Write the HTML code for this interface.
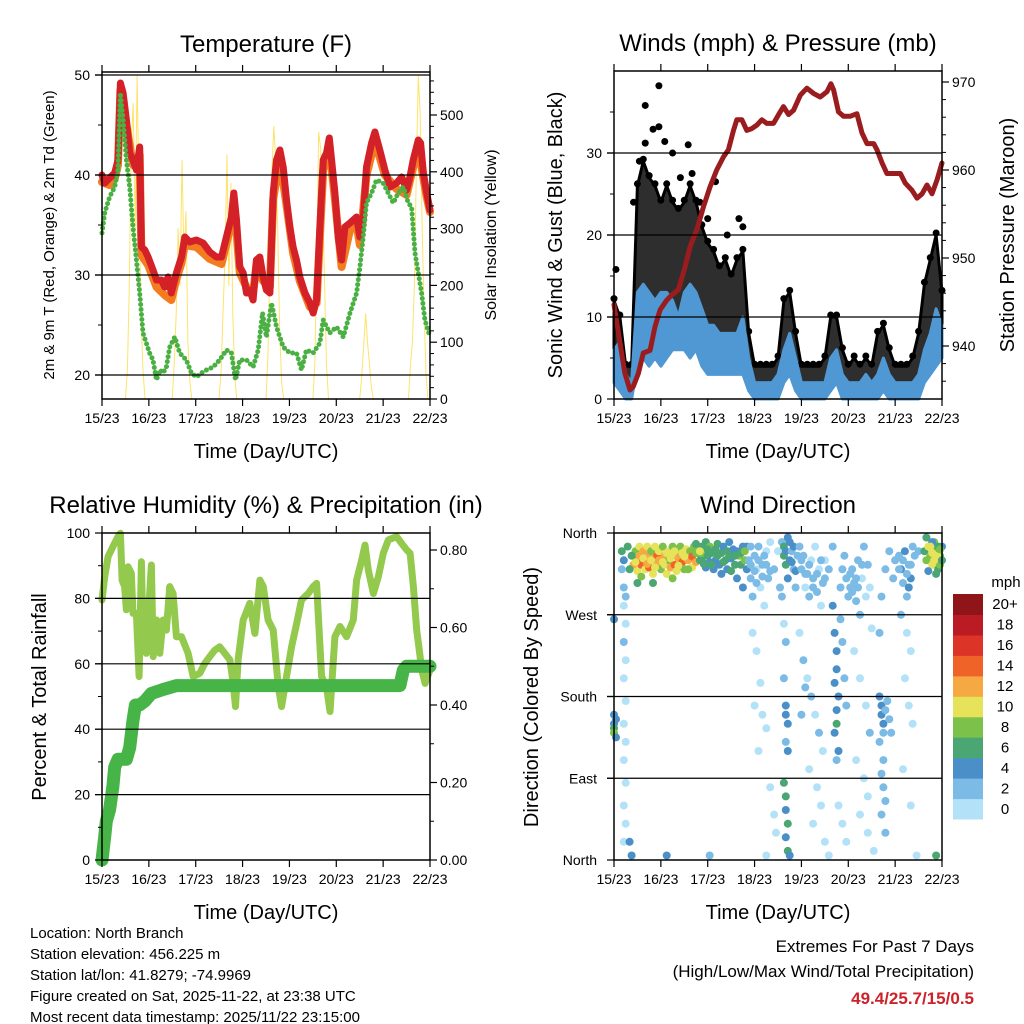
<!DOCTYPE html>
<html><head><meta charset="utf-8"><style>
html,body{margin:0;padding:0;background:#fff;}
svg{display:block;font-family:"Liberation Sans",Arial,sans-serif;}
</style></head><body>
<svg id="c" width="1024" height="1024" viewBox="0 0 1024 1024" xmlns="http://www.w3.org/2000/svg"></svg>
<script>
// ---------- DATA ----------
const dayLabels = ["15/23","16/23","17/23","18/23","19/23","20/23","21/23","22/23"];
const temp2m = [[0,40],[1.4,39.2],[3.9,39.7],[6.5,40.2],[8.2,41.5],[9.4,49.2],[10.8,48.2],[12.5,45.5],[14.2,42.2],[15.9,41.5],[17.6,40.5],[19.3,42.8],[20.2,32.8],[21.9,32.5],[23.6,31.8],[26.1,30.5],[27.9,29.5],[30.4,29.5],[32.1,28.8],[33.8,29.8],[35.5,28.2],[38.1,30.2],[40.7,31.8],[42.4,33.8],[44.9,33.3],[48.4,33.5],[51.8,33.2],[55.2,32.3],[58.6,31.8],[61.2,31.8],[63.7,33.8],[66.3,35.8],[67.5,38.2],[68.9,35.5],[70.6,30.8],[72.3,30.2],[74,28.2],[75.7,28.5],[77.4,27.5],[79.1,31.5],[80.8,31.8],[82.5,29.8],[84.2,28.5],[86,28.2],[87.7,38.2],[89.4,41.5],[91.1,42.5],[92.8,40.8],[94.5,37.5],[96.2,34.8],[97.9,32.8],[99.6,31.5],[101.3,29.8],[103.9,28.2],[106.5,27.2],[108.2,26.2],[109.9,27.5],[111.6,34.8],[113.3,41.5],[115,42.2],[116.4,43.7],[117.6,41.5],[119.3,38.2],[121,33.8],[122.7,31.5],[124.4,34.8],[127,35.2],[130.4,35.8],[132.1,33.8],[133.8,35.5],[135.5,40.8],[138.1,43.2],[139.8,44.3],[142.3,42.5],[144.9,40.5],[147.5,38.8],[150.9,39.2],[153.5,39.8],[156,38.5],[157.7,39.8],[159.4,41.5],[162,43.5],[163.2,43.2],[164.6,40.2],[166.3,38.2],[168,36.5]];
const temp9m = [[0,39.3],[3.9,39],[6.5,39.6],[8.2,41],[9.4,48.5],[12.5,45],[15.9,41],[19.3,42],[20.2,32],[23.6,31],[27.9,28.8],[32.1,28],[35.5,27.5],[38.1,29.6],[40.7,31.2],[42.4,33],[48.4,32.8],[55.2,31.6],[61.2,31.1],[66.3,35.2],[67.5,37.6],[70.6,30.2],[74,28.8],[77.4,28.2],[79.1,31],[82.5,29.4],[86,28.8],[87.7,37.6],[91.1,41.6],[94.5,37],[97.9,32.2],[101.3,29.4],[106.5,26.8],[109.9,27.2],[113.3,40.5],[116.4,42.8],[119.3,37.6],[122.7,30.8],[127,34.5],[130.4,35],[132.1,33],[135.5,40],[139.8,43.4],[144.9,40],[150.9,38.6],[156,38],[159.4,40.8],[162,42.6],[166.3,37.8],[168,36.3]];
const dewpt = [[0,34.2],[1.4,36.2],[3.9,37.8],[6.5,38.8],[8.2,40.5],[9.4,48.2],[10.8,45.5],[12.5,41.5],[14.2,38.8],[15.9,34.8],[17.6,31.5],[19.3,28.2],[21,24.2],[22.7,23.2],[24.4,22.2],[26.1,21.5],[27.9,19.5],[29.6,20.5],[31.3,20.2],[33,20.8],[34.7,22.8],[37.3,23.8],[39.8,22.2],[43.2,21.5],[45.8,20.2],[48.4,19.8],[50.9,20.2],[53.5,20.5],[56.9,20.8],[60.3,21.5],[63.7,22.5],[66.3,22.2],[68.4,19.5],[70.6,21.5],[74,21.5],[77.4,20.8],[80,22.5],[82.2,26.2],[84.2,23.8],[86.8,27.2],[89.4,24.8],[92.8,22.8],[96.2,22.2],[99.6,22.2],[102.2,20.5],[104.7,22.5],[108.2,22.2],[111.6,23.2],[113.3,25.5],[116.7,24.2],[120.1,24.8],[123.6,23.8],[127,26.2],[130.4,28.2],[132.1,30.8],[133.8,33.8],[135.5,37.2],[138.1,38.2],[140.6,39.5],[144,39.2],[146.6,38.2],[149.2,37.2],[151.7,38.2],[154.3,38.8],[156.9,37.2],[158.6,36.8],[160.3,32.2],[162,30.2],[163.7,28.2],[165.4,25.5],[168,23.8]];
const solar = [[12,0],[13,50],[14,200],[15,450],[16,520],[17,300],[18,570],[19,350],[20,150],[21,50],[22,0],
 [36,0],[37,60],[38,150],[39,300],[40,200],[41,420],[42,250],[43,330],[44,100],[45,30],[46,0],
 [60,0],[61,50],[62,150],[63,250],[64,430],[65,200],[66,380],[67,150],[68,40],[69,0],
 [84,0],[85,80],[86,250],[87,400],[88,480],[89,420],[90,300],[91,120],[92,30],[93,0],
 [108,0],[109,60],[110,250],[111,470],[112,440],[113,350],[114,200],[115,60],[116,0],
 [132,0],[133,40],[134,90],[135,150],[136,100],[137,60],[138,20],[139,0],
 [157,0],[158,60],[159,100],[160,200],[161,400],[162,570],[163,500],[164,300],[165,150],[166,40],[167,0]];
const pressure = [[0,944.7],[3.1,940.3],[5.6,936.9],[8.2,935],[9.9,935.4],[12.5,936.9],[15,939.2],[18.5,939.5],[21,942.2],[23.6,944.1],[27,945.2],[29.6,945.8],[33,946.4],[36.4,949],[39,951.3],[42.4,953.2],[45.8,955.8],[49.2,958.1],[52.6,960],[56.1,961.5],[58.6,962.3],[61.2,964.5],[62.9,965.7],[65.5,965.7],[68,964.5],[70.6,964.7],[73.2,965.1],[75.7,965.7],[78.3,965.3],[81.7,965.3],[84.3,966.3],[86.8,967.2],[89.4,966.3],[92,966.8],[95.4,968.5],[98.8,969.3],[102.2,968.7],[105.6,968.3],[109.1,968.9],[111.1,969.8],[112.5,969.1],[115,966.6],[117.6,966.1],[121,966.1],[124.4,966.4],[127,964.2],[129.6,963],[133,963],[134.7,962.3],[137.3,960.8],[139.8,959.6],[143.2,959.6],[146.7,959.6],[149.2,958.5],[152.6,957.7],[155.2,956.8],[157.8,957.3],[160.3,958.3],[162.9,957.3],[165.5,958.9],[168,960.8]];
const windHours = [0,3,6,9,12,15,18,21,24,27,30,33,36,39,42,45,48,51,54,57,60,63,66,69,72,75,78,81,84,87,90,93,96,99,102,105,108,111,114,117,120,123,126,129,132,135,138,141,144,147,150,153,156,159,162,165,168];
const windLo = [2,1,0,0,4,5,4,5,4,5,6,6,6,5,6,4,3,3,3,3,3,3,3,1,0,0,0,0,0,2,3,1,0,0,0,0,0,1,2,0,0,0,0,0,0,0,1,0,0,0,0,0,0,2,3,4,5];
const windHi = [6,7,3,2,13,14,13,12,13,13,12,10,13,14,13,11,9,9,8,8,8,8,10,5,2,2,2,2,3,6,8,5,2,2,2,2,2,5,6,3,2,2,2,3,2,3,5,3,2,2,2,2,3,6,8,11,9];
const gustLo = [3,2,1,1,8,9,8,8,8,9,9,9,8,8,8,7,6,5,5,5,5,5,5,2,2,2,2,2,2,5,6,3,2,2,2,2,2,4,4,3,2,2,2,2,2,3,4,2,2,2,2,2,3,5,7,8,7];
const gustHi = [12,10,4,4,26,29,27,26,24,26,24,23,24,26,24,21,19,18,16,17,15,17,18,8,4,4,4,4,5,12,13,8,4,4,4,4,5,10,10,6,4,5,4,5,4,8,9,6,4,4,4,5,8,14,17,20,13];
const gustOutliers = [[23,38.2],[16,35.8],[20,32.9],[23,33.2],[26,31.4],[38,31],[16,31.2],[40,27.5],[52,26.5],[64,22],[1,15.8],[13,29],[30,30],[44,24],[10,24],[34,27],[48,22],[58,20],[66,21]];
const rh = [[0,79.5],[1.4,86.6],[3.1,92.8],[5.6,95.8],[8.2,98.9],[9.4,99.9],[10.3,85.6],[11.6,83.6],[12.5,76.5],[13.3,89.7],[15,87.7],[15.9,75.4],[17.6,75.4],[19,56.1],[20.2,91.2],[21,68.3],[22.7,63.2],[23.6,73.4],[25.3,90.2],[26.2,62.2],[27.9,73.4],[29.6,63.2],[31.3,73.4],[33,70.3],[34.7,83.6],[36.4,81.5],[38.1,68.3],[40.7,68.3],[44.1,63.2],[46.7,56.1],[50.1,57.1],[52.6,60.1],[55.2,62.2],[57.8,64.2],[60.3,65.2],[62.9,63.2],[65.5,61.2],[67.2,54],[68.4,46.9],[69.7,61.2],[72.3,73.4],[75.7,78.5],[78.3,69.3],[80.9,85.6],[82.6,83.6],[85.1,73.4],[87.7,70.3],[90.3,53],[92,46.9],[94.5,56.1],[97.1,65.2],[99.7,72.4],[102.2,79.5],[105.6,81.5],[108.2,83.6],[109.9,84.6],[112.5,56.1],[115,53],[116.8,45.4],[119.3,68.3],[121.9,71.4],[125.3,68.3],[128.7,73.4],[130.4,85.6],[133,91.7],[134.7,96.3],[136.4,88.7],[139,81.5],[141.5,86.6],[144.1,93.8],[146.7,97.9],[150.9,98.9],[153.5,96.8],[156.1,94.8],[157.8,93.8],[159.5,83.6],[161.2,70.3],[163.8,58.1],[165.5,54],[168,58.1]];
const precip = [[0,0],[1.4,0.06],[2.2,0.10],[3.9,0.13],[5.6,0.19],[6.5,0.24],[8.2,0.26],[12.5,0.26],[14.2,0.29],[15.9,0.36],[17.1,0.40],[19.3,0.40],[21.9,0.41],[25.3,0.43],[31.3,0.44],[38.1,0.45],[44.9,0.45],[152.6,0.45],[154.3,0.49],[156,0.50],[168,0.50]];
const dirObs = [
[10,335,10],[10,325,12],[11,340,8],[12,330,14],[12,318,10],[13,345,10],[13,335,13],[14,325,15],[14,312,9],[15,340,12],[16,330,14],[16,320,11],[17,345,10],[18,335,12],[18,322,15],[19,340,9],[20,330,13],[20,315,10],[21,345,11],[22,335,14],[22,325,12],[23,340,10],[24,320,9],[24,330,13],[25,345,8],[26,335,12],[26,325,10],[27,315,11],[28,340,10],[28,330,9],[29,322,12],[30,345,8],[30,335,11],[31,325,14],[32,340,9],[32,318,10],[33,332,12],[34,345,8],[35,328,15],[35,338,10],[36,320,9],[37,342,11],[38,330,12],[39,340,8],[40,322,10],[40,334,14],[41,345,9],[42,328,12],[43,338,8],[44,330,7],
[11,328,11],[15,332,10],[17,326,12],[19,330,11],[21,322,10],[23,330,12],[25,328,11],[27,338,10],[29,332,10],[31,340,11],[33,324,10],[36,334,11],[38,320,9],[42,338,9],[9,335,6],[7,345,6],[8,320,7],[12,305,7],[20,305,6],[30,310,8],
[45,345,7],[45,330,6],[46,338,8],[47,322,5],[47,350,6],[48,335,7],[49,328,5],[49,345,8],[50,338,6],[51,320,5],[52,342,7],[52,330,4],[53,348,6],[54,325,5],[55,338,7],[55,315,4],[56,345,5],[57,330,6],[58,320,4],[58,340,7],[59,350,5],[60,332,4],[60,318,6],[61,342,5],[62,325,7],[63,340,4],[63,310,5],[64,335,8],[65,325,6],[66,345,5],[66,300,5],[67,330,8],[68,320,5],[68,345,4],
[46,326,6],[48,342,6],[50,325,7],[53,335,7],[56,328,6],[59,335,6],[62,335,6],[65,338,7],[67,340,9],[44,340,10],[42,348,6],
[0,160,4],[0,150,4],[0,145,6],[1,155,4],[0,140,8],[1,135,4],[0,265,4],[4,340,6],[5,330,4],[4,320,3],[5,300,2],[6,290,2],[5,280,1],[6,260,1],[5,240,2],[6,220,1],[5,200,1],[6,175,1],[5,150,1],[6,130,1],[5,110,1],[6,85,1],[5,60,1],[6,40,1],[5,20,1],[8,20,4],[9,5,4],[27,5,4],[49,5,3],
[69,330,3],[70,310,2],[70,345,2],[71,290,3],[72,335,2],[73,320,1],[74,345,2],[75,300,1],[76,325,2],[77,280,1],[78,340,1],[79,310,2],[80,350,1],[71,250,1],[73,230,1],[75,195,1],[72,170,1],[76,160,1],[78,145,1],[74,120,1],[80,80,1],[82,50,1],[83,30,1],[78,5,1],
[70,325,3],[72,318,3],[74,330,3],[76,312,3],[78,325,2],[80,318,3],[73,305,2],[77,335,3],
[82,320,2],[84,340,1],[85,300,2],[86,350,3],[87,335,6],[87,345,7],[88,325,6],[88,340,5],[89,355,4],[89,310,4],[90,330,5],[86,290,2],[87,260,1],[88,240,3],[87,200,2],[88,170,4],[88,160,4],[89,150,4],[88,130,3],[89,120,4],[87,85,6],[88,70,6],[88,55,4],[89,40,6],[88,25,4],[89,10,6],[90,5,4],[91,340,3],[92,320,2],[93,300,3],
[91,328,4],[92,345,4],[93,318,4],[94,335,3],[90,350,4],
[95,345,2],[96,320,3],[97,335,2],[98,300,1],[99,315,2],[100,290,3],[101,330,1],[102,310,2],[103,345,1],[104,295,2],[105,320,1],[106,280,1],[107,305,2],[108,330,1],[95,250,1],[97,220,2],[99,200,1],[101,180,2],[103,160,1],[105,140,2],[107,120,1],[100,100,1],[104,80,1],[106,60,1],[102,40,1],[108,20,1],[110,5,1],[96,160,3],[98,190,2],
[96,330,3],[98,315,3],[100,325,2],[102,300,3],[104,315,3],[106,330,2],[108,310,3],[110,320,2],
[112,280,4],[113,250,4],[114,230,4],[114,210,4],[113,195,4],[115,180,4],[114,165,4],[114,150,6],[113,140,4],[115,120,4],[114,110,3],[116,265,3],[117,240,2],[118,200,2],[119,170,2],[116,300,3],[117,320,2],[118,335,3],[119,310,2],[120,290,3],[112,345,2],[115,60,1],[117,40,1],[119,20,1],
[121,300,2],[122,320,3],[123,305,2],[124,285,3],[125,330,2],[126,270,2],[127,310,1],[128,345,2],[129,290,1],[130,325,2],[131,300,1],[132,255,1],[123,230,1],[126,200,1],[129,170,1],[131,140,2],[124,110,1],[128,90,1],[130,70,1],[126,50,1],[130,30,1],[133,10,1],
[121,315,3],[122,295,3],[124,310,3],[125,300,3],[127,325,2],
[136,180,4],[137,170,4],[137,160,4],[138,150,4],[139,165,3],[138,140,3],[136,130,2],[138,110,3],[137,95,2],[138,80,3],[139,65,3],[137,50,2],[139,30,2],[140,175,3],[141,155,2],[142,140,2],[136,250,2],[137,290,2],[139,320,2],[141,340,2],[143,310,3],[144,330,2],
[146,335,3],[147,320,4],[148,305,3],[149,340,4],[150,290,2],[151,325,3],[152,310,4],[153,345,2],[147,270,2],[150,250,1],[152,230,1],[149,200,1],[151,170,1],[153,150,1],[148,100,1],[152,60,1],[155,5,1],[156,340,3],
[146,320,3],[148,330,3],[150,315,3],[152,325,3],[154,335,2],[151,300,4],
[159,340,6],[160,330,8],[161,345,10],[162,335,9],[163,325,10],[164,340,8],[165,330,9],[166,320,6],[167,335,7],[168,345,5],[160,355,6],[164,350,8],[166,345,6],[161,318,4],[163,350,4],[165,315,6],[167,325,8],[165,5,7],
[162,345,10],[163,338,11],[164,330,10],[166,335,10],[167,342,9],[168,330,7]];
const speedColors = ["#b3e2f8","#7bbbe5","#4a8fc7","#4aa672","#7cc14a","#e6e25a","#f6a943","#ef6329","#dc3527","#bb1c24","#8f1518"];
const speedLabels = ["0","2","4","6","8","10","12","14","16","18","20+"];
const tempTicks = [20,30,40,50];
const solarTicks = [0,100,200,300,400,500];
const windTicks = [0,10,20,30];
const presTicks = [940,950,960,970];
const rhTicks = [0,20,40,60,80,100];
const precipTicks = [0,0.2,0.4,0.6,0.8];
const dirTicks = [[360,"North"],[270,"West"],[180,"South"],[90,"East"],[0,"North"]];

// ---------- HELPERS ----------
const S = document.getElementById('c');
const NS = 'http://www.w3.org/2000/svg';
function mk(tag, attrs, parent, txt){
  const e = document.createElementNS(NS, tag);
  for (const k in attrs) e.setAttribute(k, attrs[k]);
  if (txt !== undefined) e.textContent = txt;
  (parent || S).appendChild(e);
  return e;
}
function grp(name){
  const g = mk('g', {});
  
  
  return g;
}
const P1 = {x0:102,x1:430,y0:72,y1:399};
const P2 = {x0:614,x1:942,y0:71,y1:399};
const P3 = {x0:102,x1:430,y0:533,y1:860};
const P4 = {x0:614,x1:942,y0:533,y1:860};
function xs(P,h){ return P.x0 + h/168*(P.x1-P.x0); }
const yT = v => 175 - (v-40)*10;
const yS = v => 399 - v*0.568;
const yW = v => 399 - v*8.2;
const yP = v => 346 - (v-940)*8.8;
const yRH = v => 860 - v*3.27;
const yPr = v => 860 - v*387.5;
const yD = v => 860 - v*327/360;

function line(g, x1,y1,x2,y2,w,c){ return mk('line',{x1:x1,y1:y1,x2:x2,y2:y2,stroke:c||'#000','stroke-width':w||1},g); }
function text(g,x,y,s,size,anchor,extra){
  const a = Object.assign({x:x,y:y,'font-size':size,'text-anchor':anchor||'middle',fill:'#000'}, extra||{});
  return mk('text',a,g,s);
}

function frame(P, name, title, leftTicks, leftY, leftFmt, rightTicks, rightY, rightFmt, gridVals, minorL, minorR){
  const g = grp(name+'-axes');
  gridVals.forEach(v => line(g, P.x0-7, leftY(v), P.x1, leftY(v), 1.2, '#000'));
  leftTicks.forEach(v => { line(g,P.x0-7,leftY(v),P.x0,leftY(v),1.2); const t=text(g,P.x0-12,leftY(v)+5,leftFmt(v),14,'end');   });
  (minorL||[]).forEach(v => line(g,P.x0-4,leftY(v),P.x0,leftY(v),1));
  if (rightTicks){
    rightTicks.forEach(v => { line(g,P.x1,rightY(v),P.x1+7,rightY(v),1.2); const t=text(g,P.x1+10,rightY(v)+5,rightFmt(v),14,'start');   });
    (minorR||[]).forEach(v => line(g,P.x1,rightY(v),P.x1+4,rightY(v),1));
  }
  for (let d=0; d<=7; d++){
    const x = xs(P,d*24);
    line(g,x,P.y1,x,P.y1+7,1.2);
    line(g,x,P.y0,x,P.y0-7,1.2);
    const t = text(g,x,P.y1+24,dayLabels[d],14,'middle');
    
    
  }
  const r = mk('rect',{x:P.x0,y:P.y0,width:P.x1-P.x0,height:P.y1-P.y0,fill:'none',stroke:'#000','stroke-width':1.5},g);
  
  
  const tt = text(S,(P.x0+P.x1)/2,P.y0-20,title,24,'middle');
  
  
  const xt = text(S,(P.x0+P.x1)/2,P.y1+59,'Time (Day/UTC)',20,'middle');
  
  
}
function poly(g, pts, P, yf, stroke, w, extra){
  const d = pts.map(p => xs(P,p[0]).toFixed(1)+','+yf(p[1]).toFixed(1)).join(' ');
  return mk('polyline', Object.assign({points:d,fill:'none',stroke:stroke,'stroke-width':w,'stroke-linejoin':'round','stroke-linecap':'round'}, extra||{}), g);
}
function vtext(g,x,y,s,size,name){
  const t = text(g,0,0,s,size,'middle',{transform:'translate('+x+','+y+') rotate(-90)'});
  
  
  return t;
}

// ---------- PANEL 1: TEMPERATURE ----------
{
  const g = grp('temperature-series');
  const sol = poly(g, solar, P1, yS, '#fde36a', 1);
  
  
  const o = poly(g, temp9m, P1, yT, '#f47c20', 8);
  
  
  const r = poly(g, temp2m, P1, yT, '#d42027', 7);
  
  
  const d = poly(g, dewpt, P1, yT, '#4bb043', 5, {'stroke-dasharray':'0 5'});
  
  
  frame(P1,'temperature','Temperature (F)',tempTicks,yT,v=>String(v),solarTicks,yS,v=>String(v),tempTicks,[25,35,45],[20,40,60,80,120,140,160,180,220,240,260,280,320,340,360,380,420,440,460,480,520,540,560]);
  vtext(S,54,235,'2m & 9m T (Red, Orange) & 2m Td (Green)',15,'temperature-y-axis-title');
  vtext(S,496,235,'Solar Insolation (Yellow)',16,'solar-y-axis-title');
}

// ---------- PANEL 2: WINDS ----------
{
  const g = grp('wind-series');
  const gp = windHours.map((h,i)=>xs(P2,h).toFixed(1)+','+yW(gustHi[i]).toFixed(1)).concat(windHours.map((h,i)=>xs(P2,h).toFixed(1)+','+yW(gustLo[i]).toFixed(1)).reverse()).join(' ');
  const gb = mk('polygon',{points:gp,fill:'#000','fill-opacity':0.82,stroke:'#000','stroke-width':3,'stroke-linejoin':'round'},g);
  
  
  windHours.forEach((h,i)=>{
    const c = mk('circle',{cx:xs(P2,h),cy:yW(gustHi[i])-2,r:3.5,fill:'#000'},g);
    
    
  });
  gustOutliers.forEach(p=>{
    const c = mk('circle',{cx:xs(P2,p[0]),cy:yW(p[1]),r:3.5,fill:'#000'},g);
    
    
  });
  const wp = windHours.map((h,i)=>xs(P2,h).toFixed(1)+','+yW(windHi[i]).toFixed(1)).concat(windHours.map((h,i)=>xs(P2,h).toFixed(1)+','+yW(windLo[i]).toFixed(1)).reverse()).join(' ');
  const wb = mk('polygon',{points:wp,fill:'#5098d3',stroke:'#5098d3','stroke-width':3,'stroke-linejoin':'round'},g);
  
  
  const pl = poly(g, pressure, P2, yP, '#9b1c1f', 5);
  
  
  frame(P2,'winds','Winds (mph) & Pressure (mb)',windTicks,yW,v=>String(v),presTicks,yP,v=>String(v),[10,20,30],[5,15,25,35],[936,938,942,944,946,948,952,954,956,958,962,964,966,968]);
  vtext(S,562,235,'Sonic Wind & Gust (Blue, Black)',20,'wind-y-axis-title');
  vtext(S,1014,235,'Station Pressure (Maroon)',20,'pressure-y-axis-title');
}

// ---------- PANEL 3: RH & PRECIP ----------
{
  const g = grp('humidity-series');
  const r = poly(g, rh, P3, yRH, '#93c94d', 7);
  
  
  const p = poly(g, precip, P3, yPr, '#46b446', 13);
  
  
  frame(P3,'humidity','Relative Humidity (%) & Precipitation (in)',rhTicks,yRH,v=>String(v),precipTicks,yPr,v=>v.toFixed(2),[20,40,60,80],[10,30,50,70,90],[0.1,0.3,0.5,0.7]);
  vtext(S,46,697,'Percent & Total Rainfall',20,'humidity-y-axis-title');
}

// ---------- PANEL 4: WIND DIRECTION ----------
{
  const g = grp('wind-direction-series');
  frame(P4,'wind-direction','Wind Direction',[],yD,v=>'',null,null,null,[270,180,90],[],[]);
  dirTicks.forEach(t=>{
    line(g,P4.x0-7,yD(t[0]),P4.x0,yD(t[0]),1.2);
    const l = text(S,P4.x0-17,yD(t[0])+5,t[1],14,'end');
    
    
  });
  dirObs.forEach(o=>{
    const b = Math.min(10, Math.floor(o[2]/2));
    const c = mk('circle',{cx:xs(P4,o[0]).toFixed(1),cy:yD(o[1]).toFixed(1),r:4,fill:speedColors[b]},g);
    
    
  });
  vtext(S,538,697,'Direction (Colored By Speed)',20,'direction-y-axis-title');
  const lg = grp('speed-colorbar');
  const bh = 225/11;
  speedColors.forEach((c,i)=>{
    const y = 819 - (i+1)*bh;
    const r = mk('rect',{x:953,y:y.toFixed(1),width:30,height:(bh+0.5).toFixed(1),fill:c},lg);
    
    
    const t = text(lg,1005,y+bh/2+5,speedLabels[i],15,'middle');
    
    
  });
  const u = text(lg,1006,587,'mph',15,'middle');
  
  
}

// ---------- FOOTER TEXT ----------
{
  const g = grp('station-info');
  ["Location: North Branch","Station elevation: 456.225 m","Station lat/lon: 41.8279; -74.9969","Figure created on Sat, 2025-11-22, at 23:38 UTC","Most recent data timestamp: 2025/11/22 23:15:00"].forEach((s,i)=>{
    const t = text(g,30,938+i*21,s,15,'start');
    
    
  });
  const e = grp('extremes-summary');
  const a = text(e,974,952,'Extremes For Past 7 Days',17,'end');
  
  
  const b = text(e,974,977,'(High/Low/Max Wind/Total Precipitation)',17,'end');
  
  
  const c = text(e,974,1004,'49.4/25.7/15/0.5',17,'end',{fill:'#cc2229','font-weight':'bold'});
  
  
}
</script>
</body></html>
